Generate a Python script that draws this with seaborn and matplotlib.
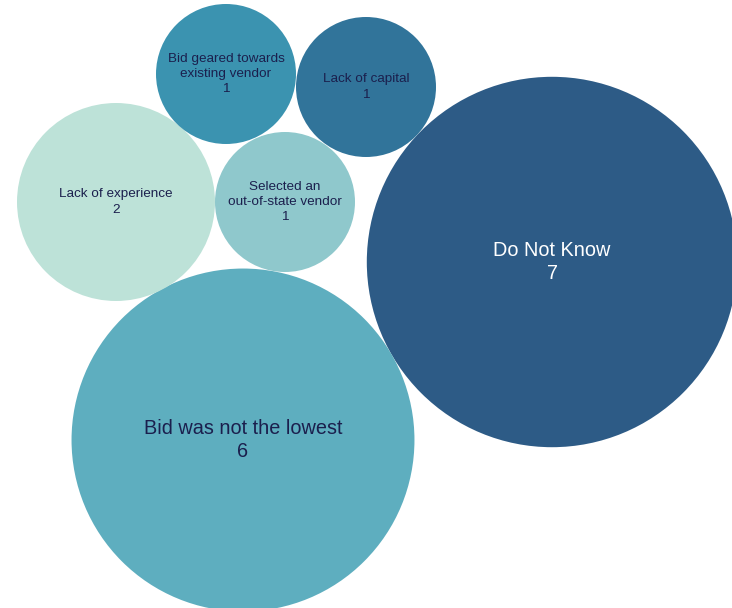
import matplotlib
matplotlib.use("Agg")
import matplotlib.pyplot as plt
import pandas as pd
import seaborn as sns

# Reasons a bid was not won, with number of responses
reasons = [
    "Do Not Know",
    "Bid was not the lowest",
    "Lack of experience",
    "Selected an\nout-of-state vendor",
    "Bid geared towards\nexisting vendor",
    "Lack of capital",
]
counts = [7, 6, 2, 1, 1, 1]
colors = ["#2d5b86", "#5eaebf", "#bde2d8", "#8fc8cc", "#3b93b0", "#31749a"]
text_colors = ["#ffffff", "#1b1f4d", "#1b1f4d", "#1b1f4d", "#1b1f4d", "#1b1f4d"]

# Packed-bubble layout: bubble centres in figure pixel space
layout_x = [552, 243, 116, 285, 226, 366]
layout_y = [262, 440, 202, 202, 74, 87]

W, H, DPI = 732, 608, 100
PX_PER_UNIT = 70  # radius in pixels of a bubble with a count of 1

df = pd.DataFrame({"reason": reasons, "count": counts,
                   "x": layout_x, "y": layout_y})

sns.set_theme(style="white")
plt.rcParams["font.family"] = ["Liberation Sans", "DejaVu Sans"]

fig = plt.figure(figsize=(W / DPI, H / DPI), dpi=DPI)
ax = fig.add_axes([0, 0, 1, 1])

# marker area (pt^2) proportional to the count, so radius ~ sqrt(count)
pt_per_px = 72 / DPI
unit_area = (2 * PX_PER_UNIT * pt_per_px) ** 2
cmin, cmax = min(counts), max(counts)
sns.scatterplot(data=df, x="x", y="y", size="count", hue="reason",
                palette=dict(zip(reasons, colors)),
                sizes=(unit_area * cmin, unit_area * cmax),
                size_norm=(cmin, cmax), linewidth=0, alpha=1,
                legend=False, ax=ax, zorder=2)

for i, row in df.iterrows():
    big = row["count"] >= 6
    ax.text(row["x"], row["y"], f"{row['reason']}\n{row['count']}",
            ha="center", va="center", multialignment="center",
            fontsize=14.3 if big else 9.7, color=text_colors[i],
            linespacing=1.32 if big else 1.38, zorder=3)

ax.set_xlim(0, W)
ax.set_ylim(H, 0)
ax.set_axis_off()
fig.savefig("out.png", dpi=DPI, facecolor="white")
